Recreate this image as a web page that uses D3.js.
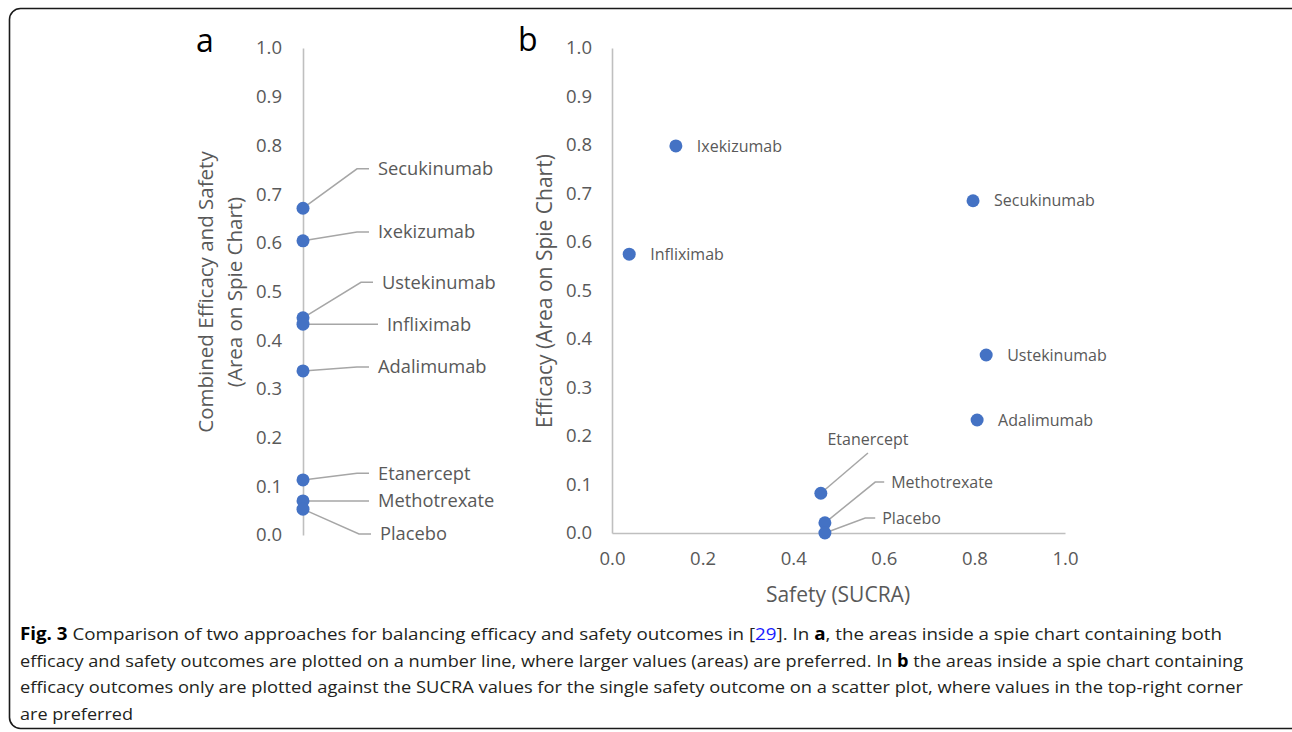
<!DOCTYPE html>
<html>
<head>
<meta charset="utf-8">
<script src="https://cdn.jsdelivr.net/npm/d3@7"></script>
<style>
  body { margin: 0; background: #fff; }
  svg text { font-family: "Open Sans", "Noto Sans", sans-serif; }
</style>
</head>
<body>
<svg id="fig" width="1292" height="732"></svg>
<script>
// ---- data ----
const drugs = ["Secukinumab", "Ixekizumab", "Ustekinumab", "Infliximab",
               "Adalimumab", "Etanercept", "Methotrexate", "Placebo"];
// panel a: combined efficacy and safety area
const combined = [0.671, 0.604, 0.446, 0.433, 0.337, 0.113, 0.070, 0.053];
// panel b: safety SUCRA (x) and efficacy area (y)
const safety   = [0.797, 0.141, 0.826, 0.038, 0.806, 0.461, 0.470, 0.470];
const efficacy = [0.685, 0.798, 0.367, 0.575, 0.233, 0.082, 0.021, 0.000];
const ticks = [0, 0.1, 0.2, 0.3, 0.4, 0.5, 0.6, 0.7, 0.8, 0.9, 1.0];
const xTicks = [0, 0.2, 0.4, 0.6, 0.8, 1.0];

// label positions along panel a's axis (data units) and small horizontal nudges
const labelA = [0.752, 0.622, 0.519, 0.433, 0.345, 0.127, 0.070, 0.002];
const nudgeA = [0, 0, 4, 9, 0, 0, 0, 2];

const blue = "#4472c4", grey = "#bfbfbf", leader = "#a6a6a6", txt = "#595959";

const svg = d3.select("#fig");

// frame
svg.append("rect")
    .attr("x", 9.5).attr("y", 8.5)
    .attr("width", 1300).attr("height", 720)
    .attr("rx", 11)
    .attr("fill", "none").attr("stroke", "#1a1a1a").attr("stroke-width", 1.6);

// ---------- panel a ----------
const ax = 303;
const yA = d3.scaleLinear().domain([0, 1]).range([535, 48]);

const gA = svg.append("g").attr("transform", `translate(${ax},0)`)
    .call(d3.axisLeft(yA).tickValues(ticks).tickFormat(d3.format(".1f"))
        .tickSize(0).tickPadding(21));
gA.select(".domain").attr("stroke", grey).attr("stroke-width", 1.6);
gA.selectAll("text").attr("font-size", 18.5).attr("fill", txt)
    .attr("font-family", "'Open Sans', sans-serif");

svg.append("text").attr("x", 196).attr("y", 52)
    .attr("font-size", 32).attr("fill", "#000").text("a");

const titleA = svg.append("text")
    .attr("transform", "translate(221,292) rotate(-90)")
    .attr("text-anchor", "middle").attr("font-size", 20.5).attr("fill", txt);
titleA.append("tspan").attr("x", 0).attr("dy", "-0.38em").text("Combined Efficacy and Safety");
titleA.append("tspan").attr("x", 0).attr("dy", "1.38em").text("(Area on Spie Chart)");

const elbowX = ax + 54;
svg.append("g").selectAll("path").data(drugs).join("path")
    .attr("d", (d, i) => {
        const py = yA(combined[i]), ly = yA(labelA[i]);
        const ex = elbowX + nudgeA[i];
        return `M${ax},${py}L${ex},${ly}L${ex + 12},${ly}`;
    })
    .attr("fill", "none").attr("stroke", leader).attr("stroke-width", 1.5);

svg.append("g").selectAll("circle").data(drugs).join("circle")
    .attr("cx", ax).attr("cy", (d, i) => yA(combined[i])).attr("r", 6.5)
    .attr("fill", blue);

svg.append("g").selectAll("text").data(drugs).join("text")
    .attr("x", (d, i) => elbowX + nudgeA[i] + 21)
    .attr("y", (d, i) => yA(labelA[i]))
    .attr("dy", "0.35em").attr("font-size", 18.3).attr("fill", txt)
    .text(d => d);

// ---------- panel b ----------
const xB = d3.scaleLinear().domain([0, 1]).range([612, 1065]);
const yB = d3.scaleLinear().domain([0, 1]).range([533, 48]);

const gBy = svg.append("g").attr("transform", `translate(${xB(0)},0)`)
    .call(d3.axisLeft(yB).tickValues(ticks).tickFormat(d3.format(".1f"))
        .tickSize(0).tickPadding(20));
const gBx = svg.append("g").attr("transform", `translate(0,${yB(0)})`)
    .call(d3.axisBottom(xB).tickValues(xTicks).tickFormat(d3.format(".1f"))
        .tickSize(0).tickPadding(19));
[gBy, gBx].forEach(g => {
    g.select(".domain").attr("stroke", grey).attr("stroke-width", 1.6);
    g.selectAll("text").attr("font-size", 18.5).attr("fill", txt)
        .attr("font-family", "'Open Sans', sans-serif");
});

svg.append("text").attr("x", 518).attr("y", 51)
    .attr("font-size", 32).attr("fill", "#000").text("b");

svg.append("text")
    .attr("transform", "translate(552,291) rotate(-90)")
    .attr("text-anchor", "middle").attr("font-size", 21).attr("fill", txt)
    .text("Efficacy (Area on Spie Chart)");
svg.append("text")
    .attr("x", 838).attr("y", 602)
    .attr("text-anchor", "middle").attr("font-size", 21).attr("fill", txt)
    .text("Safety (SUCRA)");

// labels with leader lines in panel b (label anchors in data units)
const leaderB = {
    "Etanercept":   { lx: 0.565, ly: 0.165, anchor: "middle", tail: 0 },
    "Methotrexate": { lx: 0.581, ly: 0.105, anchor: "start", tail: 9 },
    "Placebo":      { lx: 0.559, ly: 0.031, anchor: "start", tail: 10 }
};

const gB = svg.append("g");
drugs.forEach((d, i) => {
    const px = xB(safety[i]), py = yB(efficacy[i]);
    const L = leaderB[d];
    if (L) {
        const ex = xB(L.lx), ey = yB(L.ly);
        gB.append("path")
            .attr("d", `M${px},${py}L${ex},${ey}L${ex + L.tail},${ey}`)
            .attr("fill", "none").attr("stroke", leader).attr("stroke-width", 1.5);
        gB.append("text")
            .attr("x", L.anchor === "middle" ? ex : ex + L.tail + 7)
            .attr("y", L.anchor === "middle" ? ey - 14 : ey)
            .attr("dy", "0.35em").attr("text-anchor", L.anchor)
            .attr("font-size", 16).attr("fill", txt).text(d);
    } else {
        gB.append("text")
            .attr("x", px + 21).attr("y", py)
            .attr("dy", "0.35em").attr("font-size", 16).attr("fill", txt).text(d);
    }
});
gB.selectAll("circle").data(drugs).join("circle")
    .attr("cx", (d, i) => xB(safety[i])).attr("cy", (d, i) => yB(efficacy[i]))
    .attr("r", 6.5).attr("fill", blue);

// ---------- caption ----------
const caption = [
    { w: 1202, parts: [["Fig. 3", "b"], [" Comparison of two approaches for balancing efficacy and safety outcomes in ["], ["29", "l"], ["]. In "], ["a", "b"], [", the areas inside a spie chart containing both"]] },
    { w: 1223, parts: [["efficacy and safety outcomes are plotted on a number line, where larger values (areas) are preferred. In "], ["b", "b"], [" the areas inside a spie chart containing"]] },
    { w: 1223, parts: [["efficacy outcomes only are plotted against the SUCRA values for the single safety outcome on a scatter plot, where values in the top-right corner"]] },
    { w: 113, parts: [["are preferred"]] }
];
const capG = svg.append("g");
caption.forEach((line, i) => {
    const t = capG.append("text")
        .attr("x", 20).attr("y", 640 + i * 26.7)
        .attr("font-size", 17).attr("fill", "#231f20")
        .attr("textLength", line.w).attr("lengthAdjust", "spacingAndGlyphs");
    line.parts.forEach(p => {
        const s = t.append("tspan").text(p[0]);
        if (p[1] === "b") s.attr("font-weight", "bold").attr("fill", "#000");
        if (p[1] === "l") s.attr("fill", "#1a1aff");
    });
});
</script>
</body>
</html>
